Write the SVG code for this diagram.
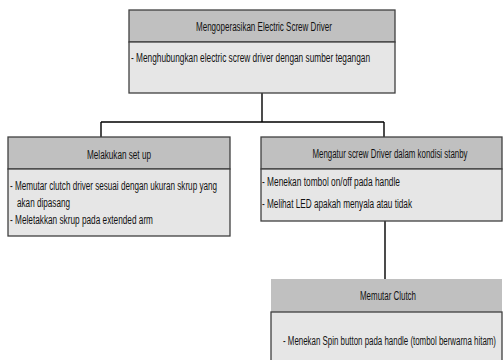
<svg xmlns="http://www.w3.org/2000/svg" width="503" height="360" viewBox="0 0 503 360">
<style>
.hd{fill:#c0c0c0;stroke:#404040;stroke-width:1.3}
.hdn{fill:#c0c0c0;stroke:none}
.bd{fill:#e6e6e6;stroke:#404040;stroke-width:1.3}
.t{font-family:"Liberation Sans Narrow","Liberation Sans",Arial,sans-serif;font-size:12.5px;fill:#111}
.c{text-anchor:middle}
.ln{stroke:#000;stroke-width:1.4;fill:none}
</style>
<rect width="503" height="360" fill="#fff"/>
<g id="connectors">
<path class="ln" d="M262 93V122M101 122H384M101 122V137M384 122V137M385 221V279"/>
</g>
<g id="node-top">
<rect class="hd" x="129" y="10" width="266" height="32"/>
<rect class="bd" x="129" y="42" width="266" height="51"/>
<text class="t c" x="264" y="31" textLength="136" lengthAdjust="spacingAndGlyphs">Mengoperasikan Electric Screw Driver</text>
<text class="t" x="131" y="62" textLength="239" lengthAdjust="spacingAndGlyphs">- Menghubungkan electric screw driver dengan sumber tegangan</text>
</g>
<g id="node-setup">
<rect class="hd" x="8" y="137" width="222" height="32"/>
<rect class="bd" x="8" y="169" width="222" height="67"/>
<text class="t c" x="119" y="159" textLength="64" lengthAdjust="spacingAndGlyphs">Melakukan set up</text>
<text class="t" x="10" y="190" textLength="207" lengthAdjust="spacingAndGlyphs">- Memutar clutch driver sesuai dengan ukuran skrup yang</text>
<text class="t" x="17" y="207" textLength="53" lengthAdjust="spacingAndGlyphs">akan dipasang</text>
<text class="t" x="10" y="224" textLength="143" lengthAdjust="spacingAndGlyphs">- Meletakkan skrup pada extended arm</text>
</g>
<g id="node-standby">
<rect class="hd" x="261" y="137" width="241" height="32"/>
<rect class="bd" x="261" y="169" width="241" height="52"/>
<text class="t c" x="390" y="158" textLength="155" lengthAdjust="spacingAndGlyphs">Mengatur screw Driver dalam kondisi stanby</text>
<text class="t" x="262" y="186" textLength="138" lengthAdjust="spacingAndGlyphs">- Menekan tombol on/off pada handle</text>
<text class="t" x="262" y="208" textLength="150" lengthAdjust="spacingAndGlyphs">- Melihat LED apakah menyala atau tidak</text>
</g>
<g id="node-clutch">
<rect class="hdn" x="271" y="279" width="231" height="33"/>
<rect class="bd" x="271" y="312" width="231" height="60"/>
<text class="t c" x="388" y="300" textLength="56" lengthAdjust="spacingAndGlyphs">Memutar Clutch</text>
<text class="t" x="283" y="345" textLength="213" lengthAdjust="spacingAndGlyphs">- Menekan Spin button pada handle (tombol berwarna hitam)</text>
</g>
</svg>
